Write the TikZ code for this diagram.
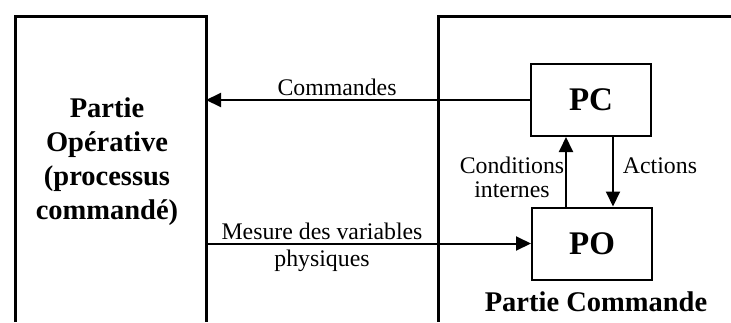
\documentclass[tikz,border=0pt]{standalone}
\usepackage{fontspec}
\setmainfont{Liberation Serif}
\usetikzlibrary{arrows.meta}
\tikzset{
  bloc/.style={draw, line width=2pt, minimum width=120pt, minimum height=72pt,
    font=\fontsize{33}{33}\selectfont\bfseries},
  fleche/.style={-{Triangle[length=15pt,width=14pt]}, line width=2pt},
  texte/.style={font=\fontsize{23.8}{27}\selectfont, align=center, inner sep=0pt},
  titre/.style={font=\fontsize{28.5}{34}\selectfont\bfseries, align=center, inner sep=0pt}
}
\begin{document}
\begin{tikzpicture}[x=1pt, y=-1pt]
\useasboundingbox (0,0) rectangle (731,322);
% les deux parties (ouvertes en bas)
\draw[line width=3pt] (15,322) -- (15,16) -- (206,16) -- (206,322);
\draw[line width=3pt] (731,16) -- (438,16) -- (438,322);
\coordinate (bordPO) at (206,0);
\node[titre] (po-titre) at (107,162) {Partie\\Opérative\\(processus\\commandé)};
\node[titre, anchor=base] (pc-titre) at (596,311) {Partie Commande};
% blocs internes
\node[bloc] (pc) at (591,100) {PC};
\node[bloc] (po) at (592,243.5) {PO};
% liaisons
\draw[fleche] (pc.west) -- (pc.west -| bordPO);
\draw[fleche] (po.west -| bordPO) -- (po.west);
\draw[fleche] ([xshift=-26pt]po.north) -- ([xshift=-26pt]po.north |- pc.south);
\draw[fleche] ([xshift=22pt]pc.south) -- ([xshift=22pt]pc.south |- po.north);
% textes
\node[texte, anchor=base] (cmd) at (337,95) {Commandes};
\node[texte] (mesure) at (322,247) {Mesure des variables\\physiques};
\node[texte, font=\fontsize{23.8}{24}\selectfont] (cond) at (512,177) {Conditions\\internes};
\node[texte, anchor=base] (act) at (660,173) {Actions};
\end{tikzpicture}
\end{document}
